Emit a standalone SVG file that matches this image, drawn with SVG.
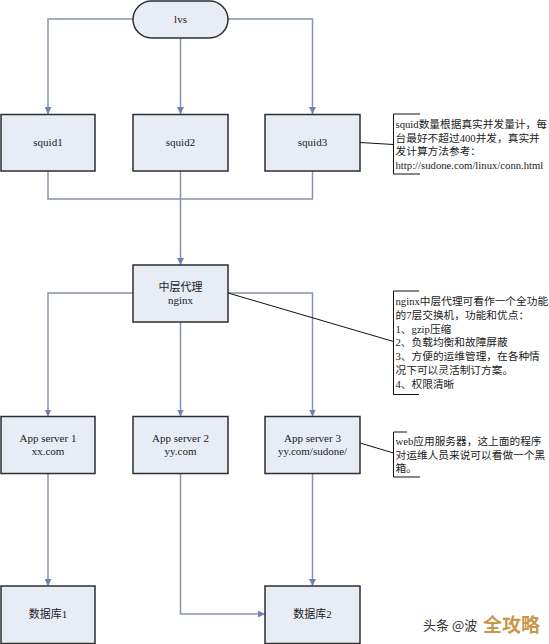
<svg xmlns="http://www.w3.org/2000/svg" width="549" height="644" viewBox="0 0 549 644">
<defs>
<style>
.box{fill:#e8ecf5;stroke:#2e2e2e;stroke-width:1.5}
.lbl{font-family:"Liberation Serif","Noto Sans CJK SC",serif;font-size:11px;fill:#222;text-anchor:middle}
.note{font-family:"Liberation Serif","Noto Sans CJK SC",serif;font-size:10.7px;fill:#222}
.conn{fill:none;stroke:#8794ab;stroke-width:1.5}
.ln{fill:none;stroke:#111;stroke-width:1}
</style>
<marker id="arr" viewBox="0 0 10 10" refX="10" refY="5" markerWidth="7" markerHeight="7" markerUnits="userSpaceOnUse" orient="auto">
<path d="M0,0 L10,5 L0,10 z" fill="#6f80b4"/>
</marker>
</defs>
<rect width="549" height="644" fill="#ffffff"/>

<g id="connectors">
<path class="conn" d="M133,19 H48 V114" marker-end="url(#arr)"/>
<path class="conn" d="M180.5,38 V114" marker-end="url(#arr)"/>
<path class="conn" d="M228,19 H312.5 V114" marker-end="url(#arr)"/>
<path class="conn" d="M48,171 V199 H312.5 V171"/>
<path class="conn" d="M180.5,171 V265" marker-end="url(#arr)"/>
<path class="conn" d="M133,293 H48 V416.5" marker-end="url(#arr)"/>
<path class="conn" d="M180.5,322 V416.5" marker-end="url(#arr)"/>
<path class="conn" d="M228,293 H312.5 V416.5" marker-end="url(#arr)"/>
<path class="conn" d="M48,473.5 V586" marker-end="url(#arr)"/>
<path class="conn" d="M180.5,473.5 V614 H265" marker-end="url(#arr)"/>
<path class="conn" d="M312.5,473.5 V586" marker-end="url(#arr)"/>
<path class="ln" d="M360,142.5 L393.5,144.5"/>
<path class="ln" d="M228,293 L393.5,341.5"/>
<path class="ln" d="M360,443 L393.5,453"/>
</g>

<g id="lvs">
<rect class="box" x="133" y="1" width="95" height="37" rx="18.5"/>
<text class="lbl" x="180.5" y="23">lvs</text>
</g>
<g id="squid1">
<rect class="box" x="1" y="114.5" width="94" height="56.5"/>
<text class="lbl" x="48" y="146">squid1</text>
</g>
<g id="squid2">
<rect class="box" x="133" y="114.5" width="95" height="56.5"/>
<text class="lbl" x="180.5" y="146">squid2</text>
</g>
<g id="squid3">
<rect class="box" x="265" y="114.5" width="95" height="56.5"/>
<text class="lbl" x="312.5" y="146">squid3</text>
</g>
<g id="nginx">
<rect class="box" x="133" y="265" width="95" height="57"/>
<text class="lbl" x="180.5" y="291">中层代理</text>
<text class="lbl" x="180.5" y="304">nginx</text>
</g>
<g id="app1">
<rect class="box" x="1" y="416.5" width="94" height="57"/>
<text class="lbl" x="48" y="442">App server 1</text>
<text class="lbl" x="48" y="455">xx.com</text>
</g>
<g id="app2">
<rect class="box" x="133" y="416.5" width="95" height="57"/>
<text class="lbl" x="180.5" y="442">App server 2</text>
<text class="lbl" x="180.5" y="455">yy.com</text>
</g>
<g id="app3">
<rect class="box" x="265" y="416.5" width="95" height="57"/>
<text class="lbl" x="312.5" y="442">App server 3</text>
<text class="lbl" x="312.5" y="455">yy.com/sudone/</text>
</g>
<g id="db1">
<rect class="box" x="1" y="586" width="94" height="57.5"/>
<text class="lbl" x="48" y="618">数据库1</text>
</g>
<g id="db2">
<rect class="box" x="265" y="586" width="95" height="57.5"/>
<text class="lbl" x="312.5" y="618">数据库2</text>
</g>

<g id="note1">
<path class="ln" d="M420,114 H393.5 V174 H420"/>
<text class="note" x="395.5" y="128">squid数量根据真实并发量计，每</text>
<text class="note" x="395.5" y="141.5">台最好不超过400并发，真实并</text>
<text class="note" x="395.5" y="155">发计算方法参考：</text>
<text class="note" x="395.5" y="168.5">http://sudone.com/linux/conn.html</text>
</g>
<g id="note2">
<path class="ln" d="M419,291 H393.5 V394.5 H419"/>
<text class="note" x="395.5" y="305">nginx中层代理可看作一个全功能</text>
<text class="note" x="395.5" y="318.8">的7层交换机，功能和优点：</text>
<text class="note" x="395.5" y="332.6">1、gzip压缩</text>
<text class="note" x="395.5" y="346.4">2、负载均衡和故障屏蔽</text>
<text class="note" x="395.5" y="360.2">3、方便的运维管理，在各种情</text>
<text class="note" x="395.5" y="374">况下可以灵活制订方案。</text>
<text class="note" x="395.5" y="387.8">4、权限清晰</text>
</g>
<g id="note3">
<path class="ln" d="M407,432 H393.5 V477 H420"/>
<text class="note" x="395.5" y="445">web应用服务器，这上面的程序</text>
<text class="note" x="395.5" y="458.5">对运维人员来说可以看做一个黑</text>
<text class="note" x="395.5" y="472">箱。</text>
</g>

<g id="watermark">
<text x="423" y="630" font-family="'Noto Sans CJK SC',sans-serif" font-size="13" fill="#333">头条 @波</text>
<text x="483" y="632" font-family="'Noto Sans CJK SC',sans-serif" font-size="19" font-weight="bold" fill="#c9974a">全攻略</text>
</g>
</svg>
